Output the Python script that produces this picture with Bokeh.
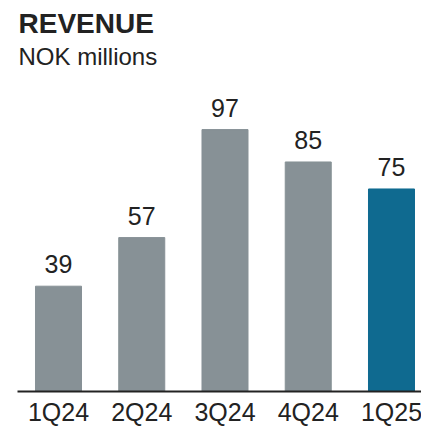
from bokeh.plotting import figure
from bokeh.models import Range1d, Label, ColumnDataSource
from bokeh.core.properties import value
from bokeh.embed import file_html
from bokeh.resources import INLINE

quarters = ["1Q24", "2Q24", "3Q24", "4Q24", "1Q25"]
revenue = [39, 57, 97, 85, 75]
colors = ["#879196", "#879196", "#879196", "#879196", "#0F6A90"]

xs = list(range(len(quarters)))
src = ColumnDataSource(dict(x=xs, top=revenue, base=[0] * len(xs), color=colors,
                            label=[str(v) for v in revenue], cat=quarters))

x_lo, x_hi = -0.6967, 4.3604
p = figure(width=421, height=428, output_backend="svg", toolbar_location=None,
           x_range=Range1d(x_lo, x_hi), y_range=Range1d(-13.70, 144.8),
           min_border=0, min_border_left=0, min_border_right=0,
           min_border_top=0, min_border_bottom=0)
p.outline_line_color = None
p.grid.visible = False
p.axis.visible = False
p.background_fill_color = "white"
p.border_fill_color = "white"

p.vbar(x="x", top="top", bottom=0, width=0.5526, color="color", source=src)
# baseline (axis line)
p.segment(x0=[-0.4925], y0=[0], x1=[x_hi], y1=[0], line_color="#222222", line_width=2)

p.text(x="x", y="top", text="label", source=src, text_align="center",
       text_baseline="alphabetic", y_offset=-22, text_font_size="25px",
       text_font=value("Liberation Sans"), text_color="#222222")
p.text(x="x", y="base", text="cat", source=src, text_align="center",
       text_baseline="alphabetic", y_offset=20, text_font_size="25px",
       text_font=value("Liberation Sans"), text_color="#222222")

p.add_layout(Label(x=18, y=405, x_units="screen", y_units="screen", text="REVENUE",
                   text_font="Liberation Sans", text_font_style="bold",
                   text_font_size="28px", text_color="#222222",
                   text_baseline="alphabetic"))
p.add_layout(Label(x=18, y=372, x_units="screen", y_units="screen", text="NOK millions",
                   text_font="Liberation Sans", text_font_size="24px",
                   text_color="#222222", text_baseline="alphabetic"))

open("out.html", "w").write(file_html(p, INLINE))
